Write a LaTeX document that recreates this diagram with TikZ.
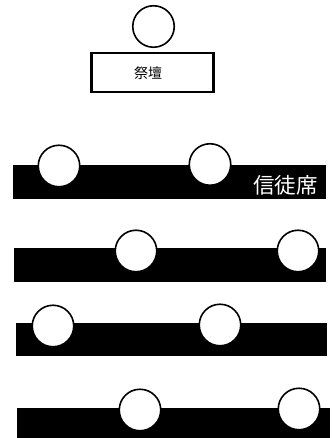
\documentclass[tikz,border=0pt]{standalone}
\usepackage{fontspec}
\newfontfamily\cjk{Noto Sans CJK JP}
\begin{document}
\begin{tikzpicture}[x=1pt,y=-1pt,
  seat/.style={circle,draw=black,fill=white,line width=1.6pt,minimum size=41.5pt,inner sep=0pt},
  pew/.style={fill=black,draw=none},
  altarbox/.style={draw=black,line width=2.6pt,fill=white,minimum width=122pt,minimum height=39pt,inner sep=0pt}]
\useasboundingbox (0,0) rectangle (332,438);
% priest seat and altar
\node[seat] (priest) at (153.5,26.5) {};
\node[altarbox] (altar) at (152.5,72.5) {};
\node[font=\cjk\fontsize{14}{14}\selectfont] (altartext) at (148,73.5) {祭壇};
% row 1
\fill[pew] (13,165) rectangle (326,199);
\node[seat] (s11) at (59,166) {};
\node[seat] (s12) at (210,164.5) {};
\node[font=\cjk\fontsize{21.5}{21.5}\selectfont,text=white,anchor=east,inner sep=0pt] (pewlabel) at (318,185) {信徒席};
% row 2
\fill[pew] (14,248) rectangle (326,282);
\node[seat] (s21) at (136,251) {};
\node[seat] (s22) at (298,251) {};
% row 3
\fill[pew] (16,323) rectangle (327,356);
\node[seat] (s31) at (53,326) {};
\node[seat] (s32) at (220,325) {};
% row 4
\fill[pew] (17,408) rectangle (330,438);
\node[seat] (s41) at (140,410) {};
\node[seat] (s42) at (299,409) {};
\end{tikzpicture}
\end{document}
